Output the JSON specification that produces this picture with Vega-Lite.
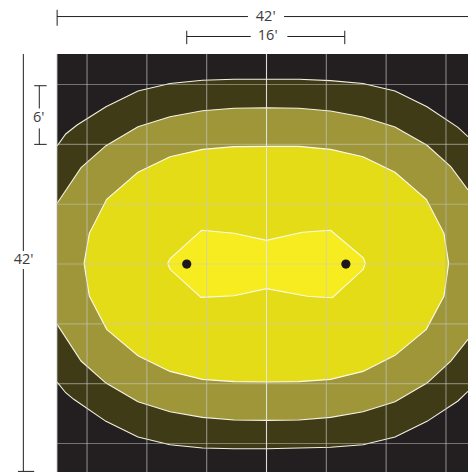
{"$schema":"https://vega.github.io/schema/vega-lite/v6.json","width":468,"height":472,"padding":0,"autosize":{"type":"none"},"background":"white","config":{"view":{"stroke":null}},
"datasets":{
"plot":[{"x":-21.01,"x2":20.21,"y":21.06,"y2":-20.9}],
"a":[{"s":"t","i":0,"x":-21,"y":11.84},{"s":"t","i":1,"x":-20.14,"y":13.04},{"s":"t","i":2,"x":-19,"y":13.94},{"s":"t","i":3,"x":-16.1,"y":15.78},{"s":"t","i":4,"x":-12.89,"y":17.35},{"s":"t","i":5,"x":-9.68,"y":18.1},{"s":"t","i":6,"x":-6.42,"y":18.43},{"s":"t","i":7,"x":-3.26,"y":18.53},{"s":"t","i":8,"x":0,"y":18.53},{"s":"t","i":9,"x":3.26,"y":18.53},{"s":"t","i":10,"x":6.42,"y":18.39},{"s":"t","i":11,"x":9.68,"y":18.1},{"s":"t","i":12,"x":12.89,"y":17.35},{"s":"t","i":13,"x":16.1,"y":15.78},{"s":"t","i":14,"x":19.2,"y":13.71},{"s":"t","i":15,"x":20.21,"y":12.77},{"s":"b","i":16,"x":20.21,"y":-12.77},{"s":"b","i":17,"x":19.2,"y":-13.74},{"s":"b","i":18,"x":16.1,"y":-15.78},{"s":"b","i":19,"x":12.89,"y":-17.35},{"s":"b","i":20,"x":9.68,"y":-18.12},{"s":"b","i":21,"x":6.42,"y":-18.38},{"s":"b","i":22,"x":3.26,"y":-18.46},{"s":"b","i":23,"x":0,"y":-18.53},{"s":"b","i":24,"x":-3.26,"y":-18.53},{"s":"b","i":25,"x":-6.42,"y":-18.46},{"s":"b","i":26,"x":-9.68,"y":-18.12},{"s":"b","i":27,"x":-12.89,"y":-17.35},{"s":"b","i":28,"x":-16.1,"y":-15.78},{"s":"b","i":29,"x":-19.33,"y":-13.57},{"s":"b","i":30,"x":-20.14,"y":-12.91},{"s":"b","i":31,"x":-21,"y":-11.84}],
"b":[{"s":"t","i":0,"x":-21,"y":6.09},{"s":"t","i":1,"x":-18.6,"y":9.66},{"s":"t","i":2,"x":-16.1,"y":11.87},{"s":"t","i":3,"x":-12.89,"y":13.77},{"s":"t","i":4,"x":-9.68,"y":14.77},{"s":"t","i":5,"x":-6.42,"y":15.38},{"s":"t","i":6,"x":-3.26,"y":15.62},{"s":"t","i":7,"x":0,"y":15.68},{"s":"t","i":8,"x":3.26,"y":15.62},{"s":"t","i":9,"x":6.42,"y":15.35},{"s":"t","i":10,"x":9.68,"y":14.74},{"s":"t","i":11,"x":12.89,"y":13.74},{"s":"t","i":12,"x":16.1,"y":11.91},{"s":"t","i":13,"x":18.48,"y":9.76},{"s":"t","i":14,"x":20.21,"y":7.42},{"s":"b","i":15,"x":20.21,"y":-7.55},{"s":"b","i":16,"x":18.48,"y":-9.73},{"s":"b","i":17,"x":16.1,"y":-11.94},{"s":"b","i":18,"x":12.89,"y":-13.81},{"s":"b","i":19,"x":9.68,"y":-14.81},{"s":"b","i":20,"x":6.42,"y":-15.38},{"s":"b","i":21,"x":3.26,"y":-15.65},{"s":"b","i":22,"x":0,"y":-15.68},{"s":"b","i":23,"x":-3.26,"y":-15.65},{"s":"b","i":24,"x":-6.42,"y":-15.38},{"s":"b","i":25,"x":-9.68,"y":-14.81},{"s":"b","i":26,"x":-12.89,"y":-13.81},{"s":"b","i":27,"x":-16.1,"y":-11.94},{"s":"b","i":28,"x":-18.6,"y":-9.73},{"s":"b","i":29,"x":-21,"y":-6.05}],
"c":[{"i":0,"x":-18.3,"y":0.07},{"i":1,"x":-17.77,"y":3.08},{"i":2,"x":-16.03,"y":6.49},{"i":3,"x":-12.89,"y":9.2},{"i":4,"x":-9.68,"y":10.76},{"i":5,"x":-6.42,"y":11.5},{"i":6,"x":-3.26,"y":11.77},{"i":7,"x":0,"y":11.8},{"i":8,"x":3.26,"y":11.8},{"i":9,"x":6.42,"y":11.5},{"i":10,"x":9.68,"y":10.76},{"i":11,"x":12.89,"y":9.2},{"i":12,"x":16.03,"y":6.49},{"i":13,"x":17.8,"y":3.08},{"i":14,"x":18.27,"y":0.07},{"i":15,"x":17.8,"y":-3.21},{"i":16,"x":16.03,"y":-6.55},{"i":17,"x":12.89,"y":-9.16},{"i":18,"x":9.68,"y":-10.77},{"i":19,"x":6.42,"y":-11.57},{"i":20,"x":3.26,"y":-11.8},{"i":21,"x":0,"y":-11.84},{"i":22,"x":-3.26,"y":-11.8},{"i":23,"x":-6.42,"y":-11.57},{"i":24,"x":-9.68,"y":-10.77},{"i":25,"x":-12.89,"y":-9.2},{"i":26,"x":-16.03,"y":-6.55},{"i":27,"x":-17.77,"y":-3.21},{"i":28,"x":-18.3,"y":0.07}],
"d":[{"i":0,"x":-9.91,"y":0.07},{"i":1,"x":-9.68,"y":-0.53},{"i":2,"x":-6.57,"y":-3.34},{"i":3,"x":-3.26,"y":-3.18},{"i":4,"x":0,"y":-2.47},{"i":5,"x":4.09,"y":-3.24},{"i":6,"x":6.6,"y":-3.38},{"i":7,"x":9.71,"y":-0.53},{"i":8,"x":9.91,"y":0.07},{"i":9,"x":9.71,"y":0.63},{"i":10,"x":7.1,"y":2.81},{"i":11,"x":6.44,"y":3.38},{"i":12,"x":3.59,"y":3.18},{"i":13,"x":0,"y":2.37},{"i":14,"x":-3.26,"y":3.08},{"i":15,"x":-6.5,"y":3.38},{"i":16,"x":-7.17,"y":2.8},{"i":17,"x":-9.68,"y":0.53},{"i":18,"x":-9.91,"y":0.07}],
"gridedge":[{"x":-21,"x2":-21,"y":21.06,"y2":-20.9},{"x":18,"x2":18,"y":21.06,"y2":-20.9}],
"gridv":[{"x":-18,"x2":-18,"y":21.06,"y2":-20.9},{"x":-12,"x2":-12,"y":21.06,"y2":-20.9},{"x":-6,"x2":-6,"y":21.06,"y2":-20.9},{"x":6,"x2":6,"y":21.06,"y2":-20.9},{"x":12,"x2":12,"y":21.06,"y2":-20.9}],
"gridc":[{"x":0,"x2":0,"y":21.06,"y2":-20.9}],
"gridh":[{"x":-21,"x2":20.21,"y":18,"y2":18},{"x":-21,"x2":20.21,"y":12,"y2":12},{"x":-21,"x2":20.21,"y":6,"y2":6},{"x":-21,"x2":20.21,"y":0,"y2":0},{"x":-21,"x2":20.21,"y":-6,"y2":-6},{"x":-21,"x2":20.21,"y":-12,"y2":-12},{"x":-21,"x2":20.21,"y":-18,"y2":-18}],
"dots":[{"x":-8,"y":0},{"x":7.96,"y":0}],
"dims":[{"x":-21,"x2":-1.86,"y":24.82,"y2":24.82},{"x":1.76,"x2":20.21,"y":24.82,"y2":24.82},{"x":-21,"x2":-21,"y":25.5,"y2":23.9},{"x":-8,"x2":-1.58,"y":22.82,"y2":22.82},{"x":2.09,"x2":7.85,"y":22.82,"y2":22.82},{"x":-8,"x2":-8,"y":23.4,"y2":22.05},{"x":7.85,"x2":7.85,"y":23.4,"y2":22.05},{"x":-24.39,"x2":-24.39,"y":21.06,"y2":1.3},{"x":-24.39,"x2":-24.39,"y":-0.5,"y2":-20.8},{"x":-24.93,"x2":-23.3,"y":-20.8,"y2":-20.8},{"x":-22.79,"x2":-22.79,"y":17.88,"y2":15.6},{"x":-22.79,"x2":-22.79,"y":13.6,"y2":12},{"x":-23.3,"x2":-22.05,"y":17.88,"y2":17.88},{"x":-23.3,"x2":-22.05,"y":12,"y2":12}],
"labels":[{"x":-0.08,"y":24.82,"t":"42'"},{"x":0.12,"y":22.82,"t":"16'"},{"x":-24.36,"y":0.4,"t":"42'"},{"x":-22.85,"y":14.67,"t":"6'"}]
},
"encoding":{
"x":{"field":"x","type":"quantitative","axis":null,"scale":{"domain":[-26.73,20.21],"nice":false,"zero":false}},
"y":{"field":"y","type":"quantitative","axis":null,"scale":{"domain":[-20.86,26.48],"nice":false,"zero":false}}
},
"layer":[
{"data":{"name":"plot"},"mark":{"type":"rect","fill":"#231f20"},"encoding":{"x2":{"field":"x2"},"y2":{"field":"y2"}}},
{"data":{"name":"a"},"mark":{"type":"line","fill":"#403b17","strokeWidth":0},"encoding":{"order":{"field":"i"}}},
{"data":{"name":"a"},"mark":{"type":"line","color":"#f2f0e0","strokeWidth":1.1},"encoding":{"detail":{"field":"s"},"order":{"field":"i"}}},
{"data":{"name":"b"},"mark":{"type":"line","fill":"#9e9638","strokeWidth":0},"encoding":{"order":{"field":"i"}}},
{"data":{"name":"b"},"mark":{"type":"line","color":"#f5f3e3","strokeWidth":1.1},"encoding":{"detail":{"field":"s"},"order":{"field":"i"}}},
{"data":{"name":"c"},"mark":{"type":"line","fill":"#e5dc18","color":"#fbfaec","strokeWidth":1.1},"encoding":{"order":{"field":"i"}}},
{"data":{"name":"d"},"mark":{"type":"line","fill":"#f6ec20","color":"#fbfaec","strokeWidth":1.1},"encoding":{"order":{"field":"i"}}},
{"data":{"name":"gridedge"},"mark":{"type":"rule","color":"#b4b4b4","strokeWidth":1.5,"opacity":0.5},"encoding":{"x2":{"field":"x2"},"y2":{"field":"y2"}}},
{"data":{"name":"gridv"},"mark":{"type":"rule","color":"#c8c8c8","strokeWidth":1.1,"opacity":0.62},"encoding":{"x2":{"field":"x2"},"y2":{"field":"y2"}}},
{"data":{"name":"gridh"},"mark":{"type":"rule","color":"#c8c8c8","strokeWidth":1.1,"opacity":0.5},"encoding":{"x2":{"field":"x2"},"y2":{"field":"y2"}}},
{"data":{"name":"gridc"},"mark":{"type":"rule","color":"#e6e6e6","strokeWidth":1.1,"opacity":0.95},"encoding":{"x2":{"field":"x2"},"y2":{"field":"y2"}}},
{"data":{"name":"dots"},"mark":{"type":"circle","color":"#1b191c","opacity":1,"size":85}},
{"data":{"name":"dims"},"mark":{"type":"rule","color":"#231f20","strokeWidth":1},"encoding":{"x2":{"field":"x2"},"y2":{"field":"y2"}}},
{"data":{"name":"labels"},"mark":{"type":"text","font":"Open Sans","fontSize":14.5,"color":"#3c3c3e","align":"center","baseline":"middle"},"encoding":{"text":{"field":"t"}}}
]}
